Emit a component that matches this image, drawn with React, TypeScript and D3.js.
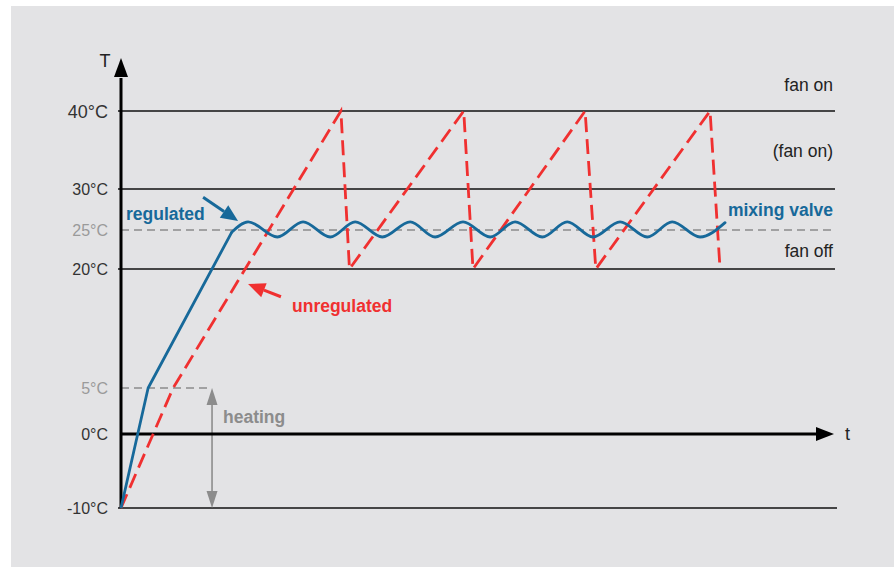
import * as d3 from "d3";

// schematic temperature axis (not linear in the original drawing)
const tempTicks = [-10, 0, 5, 20, 25, 30, 40];
const tempTickLabels = ["-10°C", "0°C", "5°C", "20°C", "25°C", "30°C", "40°C"];
const greyTicks = [5, 25];
const solidLevels = [40, 30, 20, -10];
const dashedLevels = [25];

// unregulated (fan on / fan off) - red dashed saw tooth
const unregulatedTime = [0, 7.3, 30.8, 32, 48, 49.3, 65, 66.5, 82.5, 83.9];
const unregulatedTemp = [-10, 5, 40, 20, 40, 20, 40, 20, 40, 20];

// regulated warm-up ramp
const rampTime = [0, 3.8, 15.5];
const rampTemp = [-10, 5, 24.7];

// regulated by mixing valve - oscillation around 25°C
const valveTime = [
  15.5, 17.8, 21.9, 25.5, 29.3, 32.8, 36.6, 40.5, 44.0, 47.9, 51.7, 55.2, 59.0,
  62.5, 66.1, 69.9, 73.7, 77.2, 81.1, 84.6,
];
const valveTemp = [
  24.7, 26, 24.1, 26, 24.1, 26, 24.1, 26, 24.1, 26, 24.1, 26, 24.1, 26, 24.1,
  26, 24.1, 26, 24.1, 25.9,
];

// heating span
const heatingTime = 12.75;
const heatingFrom = 5;
const heatingTo = -10;

const W = 894;
const H = 567;
const BLUE = "#17699a";
const RED = "#f03030";
const GREY = "#8c8c8c";
const FONT = "'Liberation Sans', Arial, Helvetica, sans-serif";

type Pt = [number, number];

function head(tip: Pt, from: Pt, len: number, half: number) {
  const dx = tip[0] - from[0];
  const dy = tip[1] - from[1];
  const d = Math.hypot(dx, dy);
  const ux = dx / d;
  const uy = dy / d;
  const bx = tip[0] - ux * len;
  const by = tip[1] - uy * len;
  return {
    base: [bx, by] as Pt,
    points: [
      tip,
      [bx - uy * half, by + ux * half],
      [bx + uy * half, by - ux * half],
    ]
      .map((p) => p.join(","))
      .join(" "),
  };
}

export default function App() {
  const x = d3.scaleLinear().domain([0, 100]).range([121, 835]);
  const y = d3
    .scaleLinear()
    .domain(tempTicks)
    .range([508, 434, 388, 269, 230, 189, 111]);

  const line = d3
    .line<[number, number]>()
    .x((d) => x(d[0]))
    .y((d) => y(d[1]));
  const wave = d3
    .line<[number, number]>()
    .x((d) => x(d[0]))
    .y((d) => y(d[1]))
    .curve(d3.curveMonotoneX);

  const unreg = unregulatedTime.map((t, i) => [t, unregulatedTemp[i]] as Pt);
  const ramp = rampTime.map((t, i) => [t, rampTemp[i]] as Pt);
  const valve = valveTime.map((t, i) => [t, valveTemp[i]] as Pt);

  const x0 = x(0);
  const y0 = y(0);

  // annotation arrows (data space)
  const blueTip: Pt = [x(16.4), y(26.1)];
  const blueTail: Pt = [x(11.5), y(29)];
  const redTip: Pt = [x(17.8), y(18.1)];
  const redTail: Pt = [x(22.4), y(16.5)];
  const bh = head(blueTip, blueTail, 17, 7.5);
  const rh = head(redTip, redTail, 17, 7.5);

  const hx = x(heatingTime);
  const hTop = head([hx, y(heatingFrom)], [hx, y(heatingTo)], 17, 5.5);
  const hBot = head([hx, y(heatingTo)], [hx, y(heatingFrom)], 17, 5.5);

  const yArrow = head([x0, 58], [x0, y(-10)], 19, 7);
  const xArrow = head([834, y0], [x0, y0], 18, 7);

  return (
    <div style={{ position: "fixed", left: 0, top: 0 }}>
      <svg width={W} height={H} style={{ display: "block", fontFamily: FONT }}>
        <rect width={W} height={H} fill="#fff" />
        <rect x={11} y={6} width={W - 11} height={H - 6} fill="#e3e3e5" />

        {/* level lines */}
        {solidLevels.map((v) => (
          <line
            key={v}
            x1={x0 - 3}
            x2={v === -10 ? 837 : x(100)}
            y1={y(v)}
            y2={y(v)}
            stroke="#111"
            strokeWidth={1.5}
          />
        ))}
        {dashedLevels.map((v) => (
          <line
            key={v}
            x1={x0}
            x2={x(100)}
            y1={y(v)}
            y2={y(v)}
            stroke={GREY}
            strokeWidth={1.3}
            strokeDasharray="8,5"
          />
        ))}
        <line
          x1={x0}
          x2={hx}
          y1={y(heatingFrom)}
          y2={y(heatingFrom)}
          stroke={GREY}
          strokeWidth={1.3}
          strokeDasharray="8,5"
        />

        {/* heating span */}
        <line
          x1={hx}
          x2={hx}
          y1={hTop.base[1]}
          y2={hBot.base[1]}
          stroke={GREY}
          strokeWidth={1.6}
        />
        <polygon points={hTop.points} fill={GREY} />
        <polygon points={hBot.points} fill={GREY} />
        <text x={223} y={423} fill={GREY} fontSize={17.5} fontWeight="bold">
          heating
        </text>

        {/* axes */}
        <line x1={x0} x2={x0} y1={y(-10)} y2={yArrow.base[1] + 1} stroke="#000" strokeWidth={3} />
        <polygon points={yArrow.points} fill="#000" />
        <line x1={x0} x2={xArrow.base[0] + 1} y1={y0} y2={y0} stroke="#000" strokeWidth={3} />
        <polygon points={xArrow.points} fill="#000" />
        <text x={105} y={67} textAnchor="middle" fontSize={18} fill="#222">
          T
        </text>
        <text x={845} y={440} fontSize={18} fill="#222">
          t
        </text>

        {/* tick labels */}
        {tempTicks.map((v, i) => (
          <text
            key={v}
            x={108}
            y={y(v) + (v === 40 ? 6.5 : 5.5)}
            textAnchor="end"
            fontSize={v === 40 ? 18 : 16}
            fill={greyTicks.includes(v) ? "#9a9a9a" : "#333"}
          >
            {tempTickLabels[i]}
          </text>
        ))}

        {/* unregulated */}
        <path
          d={line(unreg) ?? ""}
          fill="none"
          stroke={RED}
          strokeWidth={2.8}
          strokeDasharray="15,7"
        />

        {/* regulated */}
        <path d={line(ramp) ?? ""} fill="none" stroke={BLUE} strokeWidth={2.8} strokeLinejoin="round" />
        <path d={wave(valve) ?? ""} fill="none" stroke={BLUE} strokeWidth={2.8} strokeLinecap="round" />

        {/* annotation arrows */}
        <line x1={blueTail[0]} y1={blueTail[1]} x2={bh.base[0]} y2={bh.base[1]} stroke={BLUE} strokeWidth={3} />
        <polygon points={bh.points} fill={BLUE} />
        <line x1={redTail[0]} y1={redTail[1]} x2={rh.base[0]} y2={rh.base[1]} stroke={RED} strokeWidth={3} />
        <polygon points={rh.points} fill={RED} />

        {/* labels */}
        <text x={126} y={220} fill={BLUE} fontSize={17.5} fontWeight="bold">
          regulated
        </text>
        <text x={292} y={312} fill={RED} fontSize={17.5} fontWeight="bold">
          unregulated
        </text>
        <text x={833} y={216} textAnchor="end" fill={BLUE} fontSize={17.5} fontWeight="bold">
          mixing valve
        </text>
        <text x={833} y={91} textAnchor="end" fill="#222" fontSize={17.5}>
          fan on
        </text>
        <text x={833} y={157} textAnchor="end" fill="#222" fontSize={17.5}>
          (fan on)
        </text>
        <text x={833} y={257} textAnchor="end" fill="#222" fontSize={17.5}>
          fan off
        </text>
      </svg>
    </div>
  );
}
